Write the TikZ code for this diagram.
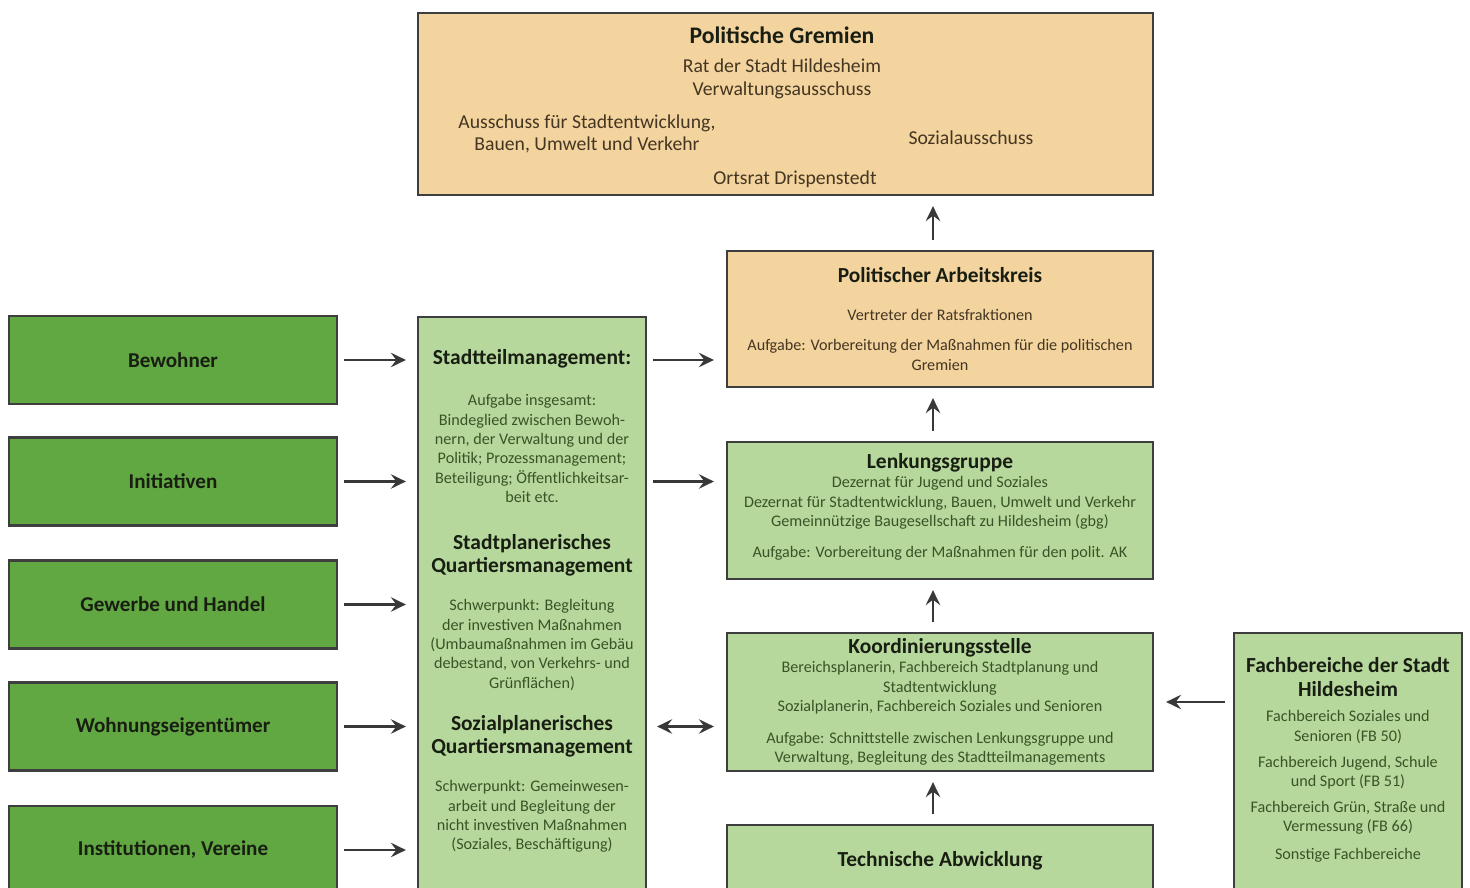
\documentclass[tikz,border=0pt]{standalone}
\usepackage{fontspec}
\setmainfont{Carlito}
\usepackage{tikz}
\usetikzlibrary{arrows.meta}
\definecolor{myOrange}{RGB}{243,211,158}
\definecolor{myLGreen}{RGB}{183,216,157}
\definecolor{myDGreen}{RGB}{98,168,66}
\definecolor{myBorder}{RGB}{62,62,62}
\definecolor{myTxtGreen}{RGB}{56,84,38}
\definecolor{myTxtBrown}{RGB}{68,54,34}
\definecolor{myHead}{RGB}{24,30,18}

\tikzset{
  box/.style={draw=myBorder, line width=1.3pt, inner sep=0pt},
  obox/.style={box, fill=myOrange},
  lbox/.style={box, fill=myLGreen},
  dbox/.style={box, fill=myDGreen, minimum width=6.56cm, minimum height=1.76cm,
    font=\fontsize{12}{13}\selectfont\bfseries, text=myHead},
  titel/.style={font=\fontsize{12.2}{13}\selectfont\bfseries, text=myHead, align=center},
  klein/.style={font=\fontsize{9.2}{11}\selectfont, text=myTxtGreen, align=center},
  mittel/.style={font=\fontsize{11.2}{13}\selectfont, text=myTxtBrown, align=center},
  spitze/.tip={Stealth[length=3mm,width=2.9mm,inset=1.1mm]},
  pfeil/.style={draw=myBorder!90!black, line width=1.2pt, -spitze},
}

\begin{document}
\begin{tikzpicture}
  \useasboundingbox (0,0) rectangle (29.4,-17.76);
  \fill[white] (0,0) rectangle (29.4,-17.76);
  \clip (0,0) rectangle (29.4,-17.76);
  % Politische Gremien
  \node[obox, minimum width=14.70cm, minimum height=3.64cm] (gremien) at (15.71,-2.08) {};
  \node[titel, font=\fontsize{13.5}{14}\selectfont\bfseries] (gremTitel) at (15.64,-0.70) {Politische Gremien};
  \node[mittel] (rat) at (15.64,-1.57) {Rat der Stadt Hildesheim\\Verwaltungsausschuss};
  \node[mittel] (ausschuss) at (11.74,-2.68) {Ausschuss für Stadtentwicklung,\\Bauen, Umwelt und Verkehr};
  \node[mittel] (sozaus) at (19.42,-2.76) {Sozialausschuss};
  \node[mittel] (ortsrat) at (15.90,-3.58) {Ortsrat Drispenstedt};
  % Politischer Arbeitskreis
  \node[obox, minimum width=8.52cm, minimum height=2.72cm] (polak) at (18.80,-6.38) {};
  \node[titel] (polakTitel) at (18.80,-5.50) {Politischer Arbeitskreis};
  \node[klein, text=myTxtBrown] (vertreter) at (18.80,-6.30) {Vertreter der Ratsfraktionen};
  \node[klein, text=myTxtBrown] (polakAufg) at (18.80,-7.10) {Aufgabe: Vorbereitung der Maßnahmen für die politischen\\Gremien};
  % Lenkungsgruppe
  \node[lbox, minimum width=8.52cm, minimum height=2.74cm] (lenk) at (18.80,-10.21) {};
  \node[titel] (lenkTitel) at (18.80,-9.26) {Lenkungsgruppe};
  \node[klein] (dezernat) at (18.80,-10.06) {Dezernat für Jugend und Soziales\\Dezernat für Stadtentwicklung, Bauen, Umwelt und Verkehr\\Gemeinnützige Baugesellschaft zu Hildesheim (gbg)};
  \node[klein] (lenkAufg) at (18.80,-11.06) {Aufgabe: Vorbereitung der Maßnahmen für den polit. AK};
  % Koordinierungsstelle
  \node[lbox, minimum width=8.52cm, minimum height=2.76cm] (koord) at (18.80,-14.04) {};
  \node[titel] (koordTitel) at (18.80,-12.96) {Koordinierungsstelle};
  \node[klein] (planer) at (18.80,-13.76) {Bereichsplanerin, Fachbereich Stadtplanung und\\Stadtentwicklung\\Sozialplanerin, Fachbereich Soziales und Senioren};
  \node[klein] (koordAufg) at (18.80,-14.97) {Aufgabe: Schnittstelle zwischen Lenkungsgruppe und\\Verwaltung, Begleitung des Stadtteilmanagements};
  % Technische Abwicklung
  \node[lbox, minimum width=8.52cm, minimum height=1.70cm] (technik) at (18.80,-17.35) {};
  \node[titel] (technikTitel) at (18.80,-17.22) {Technische Abwicklung};
  % Fachbereiche
  \node[lbox, minimum width=4.56cm, minimum height=5.54cm] (fach) at (26.96,-15.43) {};
  \node[titel, font=\fontsize{12.2}{14}\selectfont\bfseries] (fachTitel) at (26.96,-13.54) {Fachbereiche der Stadt\\Hildesheim};
  \node[klein] (fb50) at (26.96,-14.54) {Fachbereich Soziales und\\Senioren (FB 50)};
  \node[klein] (fb51) at (26.96,-15.46) {Fachbereich Jugend, Schule\\und Sport (FB 51)};
  \node[klein] (fb66) at (26.96,-16.36) {Fachbereich Grün, Straße und\\Vermessung (FB 66)};
  \node[klein] (fbsonst) at (26.96,-17.10) {Sonstige Fachbereiche};
  % Stadtteilmanagement
  \node[lbox, minimum width=4.56cm, minimum height=11.86cm] (stm) at (10.64,-12.27) {};
  \node[titel] (stmTitel) at (10.64,-7.18) {Stadtteilmanagement:};
  \node[klein] (stmAufg) at (10.64,-8.97) {Aufgabe insgesamt:\\Bindeglied zwischen Bewoh-\\nern, der Verwaltung und der\\Politik; Prozessmanagement;\\Beteiligung; Öffentlichkeitsar-\\beit etc.};
  \node[titel] (stadtpl) at (10.64,-11.10) {Stadtplanerisches\\Quartiersmanagement};
  \node[klein] (stadtplText) at (10.64,-12.90) {Schwerpunkt: Begleitung\\der investiven Maßnahmen\\(Umbaumaßnahmen im Gebäu\\debestand, von Verkehrs- und\\Grünflächen)};
  \node[titel] (sozpl) at (10.64,-14.72) {Sozialplanerisches\\Quartiersmanagement};
  \node[klein] (sozplText) at (10.64,-16.33) {Schwerpunkt: Gemeinwesen-\\arbeit und Begleitung der\\nicht investiven Maßnahmen\\(Soziales, Beschäftigung)};
  % Akteure
  \node[dbox] (bew) at (3.46,-7.20) {Bewohner};
  \node[dbox] (init) at (3.46,-9.63) {Initiativen};
  \node[dbox] (gewerbe) at (3.46,-12.09) {Gewerbe und Handel};
  \node[dbox] (wohnung) at (3.46,-14.53) {Wohnungseigentümer};
  \node[dbox] (inst) at (3.46,-17.00) {Institutionen, Vereine};
  % Pfeile
  \foreach \a in {bew, init, gewerbe, wohnung, inst} {
    \draw[pfeil, shorten <=0.12cm, shorten >=0.22cm] (\a.east) -- (\a.east -| stm.west);
  }
  \draw[pfeil, shorten <=0.12cm, shorten >=0.24cm] (stm.east |- bew) -- (polak.west |- bew);
  \draw[pfeil, shorten <=0.12cm, shorten >=0.24cm] (stm.east |- init) -- (lenk.west |- init);
  \draw[pfeil, spitze-spitze, shorten <=0.2cm, shorten >=0.24cm] (stm.east |- wohnung) -- (koord.west |- wohnung);
  \draw[pfeil, shorten <=0.16cm, shorten >=0.24cm] (fach.west |- koord) -- (koord.east);
  \draw[pfeil, shorten <=0.2cm, shorten >=0.2cm] ([xshift=-0.14cm]polak.north) -- ([xshift=-0.14cm]polak.north |- gremien.south);
  \draw[pfeil, shorten <=0.2cm, shorten >=0.2cm] ([xshift=-0.14cm]lenk.north) -- ([xshift=-0.14cm]lenk.north |- polak.south);
  \draw[pfeil, shorten <=0.2cm, shorten >=0.2cm] ([xshift=-0.14cm]koord.north) -- ([xshift=-0.14cm]koord.north |- lenk.south);
  \draw[pfeil, shorten <=0.2cm, shorten >=0.2cm] ([xshift=-0.14cm]technik.north) -- ([xshift=-0.14cm]technik.north |- koord.south);
\end{tikzpicture}
\end{document}
